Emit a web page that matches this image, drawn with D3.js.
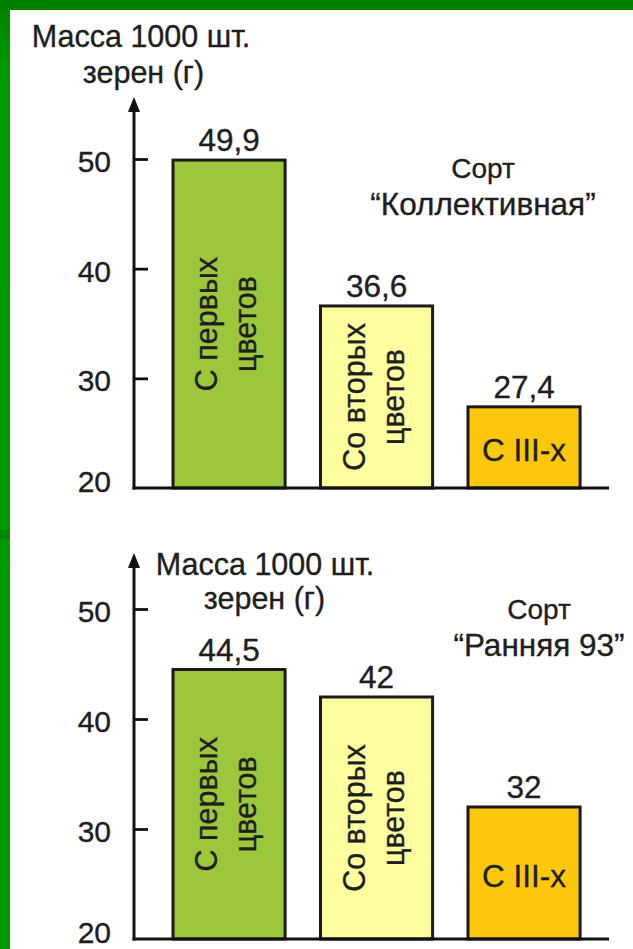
<!DOCTYPE html>
<html>
<head>
<meta charset="utf-8">
<script src="https://cdn.jsdelivr.net/npm/d3@7"></script>
<style>
  html, body { margin: 0; padding: 0; background: #fff; }
  svg { display: block; }
  text { font-family: "Liberation Sans", Arial, sans-serif; fill: #1e1e1e; stroke: #1e1e1e; stroke-width: 0.35px; }
</style>
</head>
<body>
<script>
// Категории (источник зёрен) и подписи внутри столбиков
const categories = ["first", "second", "third"];
const barLabels = [["С первых", "цветов"], ["Со вторых", "цветов"], ["С III-x"]];

// Масса 1000 зёрен (г) по сортам
const varietyNames = ["“Коллективная”", "“Ранняя 93”"];
const valuesKollektivnaya = [49.9, 36.6, 27.4];
const valuesRannyaya93 = [44.5, 42, 32];
const valueLabelsKollektivnaya = ["49,9", "36,6", "27,4"];
const valueLabelsRannyaya93 = ["44,5", "42", "32"];

// Шкала оси Y
const tickValues = [20, 30, 40, 50];
const yDomain = [20, 50];
const axisTitle = ["Масса 1000 шт.", "зерен (г)"];

const barColors = ["#9cc63c", "#ffff9f", "#fdc80c"];

const W = 633, H = 949;
const svg = d3.select("body").append("svg").attr("width", W).attr("height", H);

// Зелёная рамка слева и сверху
const defs = svg.append("defs");
const grad = defs.append("linearGradient").attr("id", "side").attr("x1", 0).attr("x2", 0).attr("y1", 0).attr("y2", 1);
grad.append("stop").attr("offset", "0%").attr("stop-color", "#008000");
grad.append("stop").attr("offset", "8%").attr("stop-color", "#009c00");
grad.append("stop").attr("offset", "100%").attr("stop-color", "#009a00");
svg.append("rect").attr("x", 0).attr("y", 0).attr("width", W).attr("height", H).attr("fill", "#fff");
svg.append("rect").attr("x", 0).attr("y", 0).attr("width", 10).attr("height", H).attr("fill", "url(#side)");
svg.append("rect").attr("x", 0).attr("y", 530).attr("width", 10).attr("height", 9).attr("fill", "#008600");
svg.append("rect").attr("x", 0).attr("y", 0).attr("width", W).attr("height", 10).attr("fill", "#008000");

const x = d3.scaleBand().domain(categories).range([155.3, 597.8]).paddingInner(0.24).paddingOuter(0.12);
const axisX = 134;
const baselineEnd = 609;

function drawChart(opts) {
  const y = d3.scaleLinear().domain(yDomain).range([opts.bottom, opts.top]);
  const g = svg.append("g");

  // Ось Y со стрелкой
  g.append("line")
    .attr("x1", axisX).attr("x2", axisX)
    .attr("y1", y(yDomain[0]) + 1.5).attr("y2", opts.arrowTip + 8)
    .attr("stroke", "#111").attr("stroke-width", 3);
  g.append("path")
    .attr("d", `M${axisX},${opts.arrowTip} L${axisX - 6},${opts.arrowTip + 15} L${axisX + 6},${opts.arrowTip + 15} Z`)
    .attr("fill", "#111");

  // Засечки и подписи шкалы
  const axis = d3.axisLeft(y).tickValues(tickValues).tickSizeInner(14).tickSizeOuter(0).tickPadding(9)
    .tickFormat(d3.format("d"));
  const ag = g.append("g").attr("transform", `translate(${axisX},0)`).call(axis);
  ag.select(".domain").remove();
  ag.selectAll(".tick line").attr("x2", 14).attr("stroke", "#111").attr("stroke-width", 2.8)
    .filter(d => d === yDomain[0]).remove();
  ag.selectAll(".tick text")
    .attr("font-size", 30).attr("font-family", null).attr("fill", null)
    .attr("dy", d => d === yDomain[0] ? "0.1em" : "0.42em");

  // Столбики
  g.selectAll("rect.bar").data(opts.values).join("rect")
    .attr("class", "bar")
    .attr("x", (d, i) => x(categories[i]))
    .attr("width", x.bandwidth())
    .attr("y", d => y(d))
    .attr("height", d => y(yDomain[0]) - y(d))
    .attr("fill", (d, i) => barColors[i])
    .attr("stroke", "#1a1a1a").attr("stroke-width", 3);

  // Горизонтальная линия основания
  g.append("line")
    .attr("x1", axisX - 1.5).attr("x2", baselineEnd)
    .attr("y1", y(yDomain[0])).attr("y2", y(yDomain[0]))
    .attr("stroke", "#111").attr("stroke-width", 3);

  // Значения над столбиками
  g.selectAll("text.val").data(opts.values).join("text")
    .attr("class", "val")
    .attr("x", (d, i) => x(categories[i]) + x.bandwidth() / 2)
    .attr("y", d => y(d) - 9)
    .attr("text-anchor", "middle").attr("font-size", 31.5)
    .text((d, i) => opts.valueLabels[i]);

  // Подписи внутри столбиков
  opts.values.forEach((v, i) => {
    const cx = x(categories[i]) + x.bandwidth() / 2;
    const cy = (y(v) + y(yDomain[0])) / 2;
    const lines = barLabels[i];
    if (lines.length === 2) {
      const offs = [-12, 27];
      lines.forEach((t, k) => {
        g.append("text")
          .attr("transform", `translate(${cx + offs[k]},${cy}) rotate(-90)`)
          .attr("text-anchor", "middle").attr("font-size", 30.5)
          .text(t);
      });
    } else {
      g.append("text")
        .attr("x", cx).attr("y", cy + 14)
        .attr("text-anchor", "middle").attr("font-size", 31.5)
        .text(lines[0]);
    }
  });

  // Название оси
  opts.titlePos.forEach((p, k) => {
    g.append("text")
      .attr("x", p[0]).attr("y", p[1])
      .attr("text-anchor", "middle").attr("font-size", 30.5)
      .text(axisTitle[k]);
  });

  // Название сорта
  g.append("text").attr("x", opts.sortX).attr("y", opts.sortY)
    .attr("text-anchor", "middle").attr("font-size", 28).text("Сорт");
  g.append("text").attr("x", opts.sortX).attr("y", opts.sortY + 37)
    .attr("text-anchor", "middle").attr("font-size", 31.5).text(opts.variety);
}

drawChart({
  values: valuesKollektivnaya, valueLabels: valueLabelsKollektivnaya, variety: varietyNames[0],
  bottom: 488, top: 159, arrowTip: 97,
  titlePos: [[141, 47], [143.5, 83]],
  sortX: 483, sortY: 178
});

drawChart({
  values: valuesRannyaya93, valueLabels: valueLabelsRannyaya93, variety: varietyNames[1],
  bottom: 939, top: 609, arrowTip: 553,
  titlePos: [[265, 575], [264.5, 609]],
  sortX: 539, sortY: 619
});
</script>
</body>
</html>
